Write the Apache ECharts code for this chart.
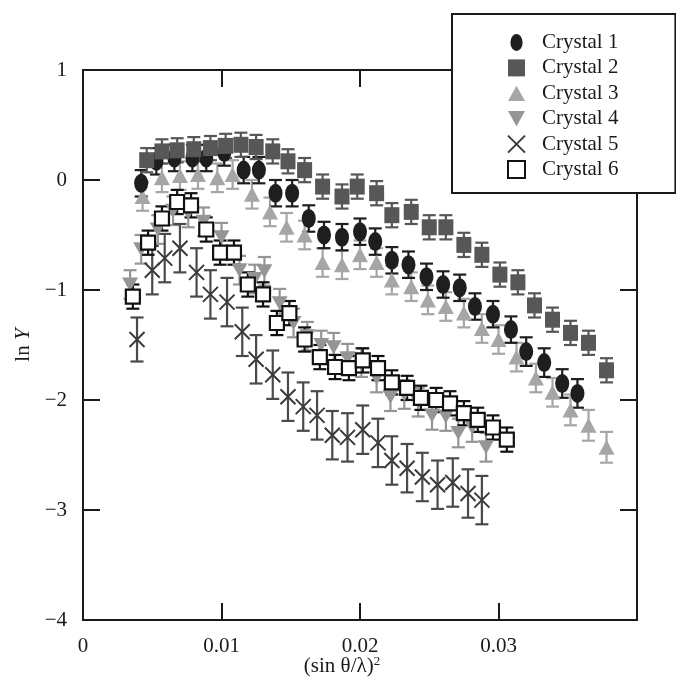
<!DOCTYPE html>
<html>
<head>
<meta charset="utf-8">
<script src="https://cdn.jsdelivr.net/npm/echarts@6/dist/echarts.min.js"></script>
<style>html,body{margin:0;padding:0;background:#fff;}#chart{width:676px;height:680px;}</style>
</head>
<body>
<div id="chart"></div>
<script>
// ---- data ----
const seriesNames = ['Crystal 1','Crystal 2','Crystal 3','Crystal 4','Crystal 5','Crystal 6'];
const xTicks = [0, 0.01, 0.02, 0.03];
const yTicks = [-4, -3, -2, -1, 0, 1];

const c1X = [0.0042,0.0053,0.0066,0.0079,0.0089,0.0102,0.0116,0.0127,0.0139,0.0151,0.0163,0.0174,0.0187,0.0200,0.0211,0.0223,0.0235,0.0248,0.0260,0.0272,0.0283,0.0296,0.0309,0.0320,0.0333,0.0346,0.0357];
const c1Y = [-0.03,0.17,0.20,0.20,0.20,0.25,0.09,0.09,-0.12,-0.12,-0.35,-0.50,-0.52,-0.47,-0.56,-0.73,-0.77,-0.88,-0.95,-0.98,-1.15,-1.22,-1.36,-1.56,-1.66,-1.85,-1.94];
const c1Err = [0.12,0.12,0.12,0.12,0.12,0.12,0.12,0.12,0.12,0.12,0.12,0.12,0.12,0.12,0.12,0.12,0.12,0.12,0.12,0.12,0.12,0.12,0.12,0.13,0.13,0.13,0.13];

const c2X = [0.0046,0.0057,0.0068,0.0080,0.0092,0.0103,0.0114,0.0125,0.0137,0.0148,0.0160,0.0173,0.0187,0.0198,0.0212,0.0223,0.0237,0.0250,0.0262,0.0275,0.0288,0.0301,0.0314,0.0326,0.0339,0.0352,0.0365,0.0378];
const c2Y = [0.18,0.26,0.27,0.28,0.29,0.31,0.32,0.30,0.26,0.17,0.09,-0.06,-0.15,-0.06,-0.12,-0.32,-0.29,-0.43,-0.43,-0.59,-0.68,-0.86,-0.93,-1.14,-1.27,-1.39,-1.48,-1.73];
const c2Err = [0.11,0.11,0.11,0.11,0.11,0.11,0.11,0.11,0.11,0.11,0.11,0.11,0.11,0.11,0.11,0.11,0.11,0.11,0.11,0.11,0.11,0.11,0.11,0.11,0.11,0.11,0.11,0.11];

const c3X = [0.0043,0.0057,0.0070,0.0083,0.0097,0.0108,0.0122,0.0135,0.0147,0.0160,0.0173,0.0187,0.0200,0.0212,0.0223,0.0237,0.0249,0.0262,0.0275,0.0288,0.0300,0.0313,0.0327,0.0339,0.0352,0.0365,0.0378];
const c3Y = [-0.15,0.02,0.04,0.05,0.02,0.05,-0.13,-0.29,-0.43,-0.50,-0.75,-0.77,-0.68,-0.75,-0.91,-0.97,-1.09,-1.15,-1.21,-1.35,-1.45,-1.61,-1.80,-1.93,-2.09,-2.23,-2.43];
const c3Err = [0.13,0.13,0.13,0.13,0.13,0.13,0.13,0.13,0.13,0.13,0.13,0.13,0.13,0.13,0.13,0.13,0.13,0.13,0.13,0.13,0.13,0.13,0.13,0.13,0.14,0.14,0.14];

const c4X = [0.0034,0.0042,0.0054,0.0065,0.0076,0.0087,0.0100,0.0113,0.0124,0.0131,0.0142,0.0152,0.0162,0.0172,0.0181,0.0191,0.0201,0.0212,0.0222,0.0232,0.0242,0.0252,0.0262,0.0271,0.0281,0.0291];
const c4Y = [-0.95,-0.63,-0.45,-0.28,-0.30,-0.38,-0.52,-0.82,-0.90,-0.83,-1.12,-1.30,-1.42,-1.50,-1.52,-1.62,-1.66,-1.80,-1.97,-1.95,-2.02,-2.14,-2.15,-2.30,-2.25,-2.43];
const c4Err = [0.13,0.13,0.13,0.13,0.13,0.13,0.13,0.13,0.13,0.13,0.13,0.13,0.13,0.13,0.13,0.13,0.13,0.13,0.13,0.13,0.13,0.13,0.13,0.13,0.13,0.13];

const c5X = [0.0039,0.0050,0.0059,0.0070,0.0082,0.0092,0.0104,0.0115,0.0125,0.0137,0.0148,0.0159,0.0169,0.0180,0.0191,0.0202,0.0213,0.0223,0.0234,0.0245,0.0256,0.0267,0.0278,0.0288];
const c5Y = [-1.45,-0.82,-0.71,-0.62,-0.84,-1.04,-1.11,-1.38,-1.63,-1.77,-1.97,-2.06,-2.14,-2.32,-2.34,-2.27,-2.39,-2.55,-2.62,-2.70,-2.77,-2.75,-2.85,-2.91];
const c5Err = [0.20,0.22,0.22,0.22,0.22,0.22,0.22,0.22,0.22,0.22,0.22,0.22,0.22,0.22,0.22,0.22,0.22,0.22,0.22,0.22,0.22,0.22,0.22,0.22];

const c6X = [0.0036,0.0047,0.0057,0.0068,0.0078,0.0089,0.0099,0.0109,0.0119,0.0130,0.0140,0.0149,0.0160,0.0171,0.0182,0.0192,0.0202,0.0213,0.0223,0.0234,0.0244,0.0255,0.0265,0.0275,0.0285,0.0296,0.0306];
const c6Y = [-1.06,-0.57,-0.35,-0.20,-0.23,-0.45,-0.66,-0.66,-0.95,-1.04,-1.30,-1.21,-1.45,-1.61,-1.70,-1.71,-1.64,-1.71,-1.84,-1.89,-1.98,-2.00,-2.03,-2.12,-2.18,-2.25,-2.36];
const c6Err = [0.11,0.11,0.11,0.11,0.11,0.11,0.11,0.11,0.11,0.11,0.11,0.11,0.11,0.11,0.11,0.11,0.11,0.11,0.11,0.11,0.11,0.11,0.11,0.11,0.11,0.11,0.11];

// ---- styling ----
const FONT = "'Liberation Serif','Times New Roman',serif";
const ellipsePath = 'path://M50,0 A50,70 0 1 1 50,140 A50,70 0 1 1 50,0 Z';
const downTri = 'path://M0,0 L100,0 L50,90 Z';
const upTri = 'path://M50,0 L100,90 L0,90 Z';
const xPath = 'path://M0,0 L100,100 M100,0 L0,100';
const squarePath = 'path://M0,0 L100,0 L100,100 L0,100 Z';

const defs = [
  {name:'Crystal 3', x:c3X, y:c3Y, e:c3Err, color:'#a6a6a6', bar:'#a6a6a6', symbol:'triangle', size:[16,15], icon:upTri},
  {name:'Crystal 4', x:c4X, y:c4Y, e:c4Err, color:'#959595', bar:'#959595', symbol:downTri, size:[16,14], icon:downTri},
  {name:'Crystal 1', x:c1X, y:c1Y, e:c1Err, color:'#1e1e1e', bar:'#1e1e1e', symbol:ellipsePath, size:[14,19], icon:ellipsePath},
  {name:'Crystal 2', x:c2X, y:c2Y, e:c2Err, color:'#575757', bar:'#575757', symbol:'rect', size:[15,16], icon:squarePath},
  {name:'Crystal 5', x:c5X, y:c5Y, e:c5Err, color:'rgba(0,0,0,0)', bar:'#4a4a4a', symbol:xPath, size:[15,15], icon:xPath, border:'#3a3a3a', bw:2},
  {name:'Crystal 6', x:c6X, y:c6Y, e:c6Err, color:'#ffffff', bar:'#111111', symbol:'rect', size:[14,14], icon:squarePath, border:'#111111', bw:2.2}
];

const series = [];
defs.forEach(d => {
  const pts = d.x.map((xv,i) => [xv, d.y[i], d.e[i]]);
  series.push({
    type:'custom', name:d.name+' err', data:pts, silent:true,
    encode:{x:0, y:1},
    renderItem:(params, api) => {
      const xv = api.value(0), yv = api.value(1), ev = api.value(2);
      const top = api.coord([xv, yv+ev]);
      const bot = api.coord([xv, yv-ev]);
      const hw = 6.5;
      const st = {stroke:d.bar, lineWidth:2.2};
      return {type:'group', children:[
        {type:'line', shape:{x1:top[0], y1:top[1], x2:bot[0], y2:bot[1]}, style:st},
        {type:'line', shape:{x1:top[0]-hw, y1:top[1], x2:top[0]+hw, y2:top[1]}, style:st},
        {type:'line', shape:{x1:bot[0]-hw, y1:bot[1], x2:bot[0]+hw, y2:bot[1]}, style:st}
      ]};
    }
  });
  series.push({
    type:'scatter', name:d.name, data:pts.map(p=>[p[0],p[1]]),
    symbol:d.symbol, symbolSize:d.size, symbolKeepAspect:false,
    itemStyle:{color:d.color, borderColor:d.border||d.color, borderWidth:d.bw||0, opacity:1},
    emphasis:{disabled:true}
  });
});

const iconFor = {};
defs.forEach(d => iconFor[d.name] = d.icon);

const minus = v => String(v).replace('-', '\u2212');

const chart = echarts.init(document.getElementById('chart'), null, {renderer:'canvas'});
chart.setOption({
  animation:false,
  backgroundColor:'#fff',
  textStyle:{fontFamily:FONT},
  grid:{left:83, right:39, top:70, bottom:60, show:true, borderColor:'#1a1a1a', borderWidth:2, backgroundColor:'transparent', containLabel:false, outerBoundsMode:'none'},
  legend:{
    orient:'vertical', left:452, top:14,
    padding:[18,57,13,55],
    backgroundColor:'#fff', borderColor:'#1a1a1a', borderWidth:2,
    itemWidth:17, itemHeight:17, itemGap:4.4,
    symbolKeepAspect:true,
    textStyle:{fontFamily:FONT, fontSize:21, color:'#1a1a1a', lineHeight:21, padding:[0,0,0,12]},
    selectedMode:false,
    data:seriesNames.map(n => ({name:n, icon:iconFor[n]}))
  },
  xAxis:[{
    type:'value', min:0, max:0.04, interval:0.01,
    name:'{a|(sin \u03b8/\u03bb)}{s|2}', nameLocation:'middle', nameGap:35, nameMoveOverlap:false,
    nameTextStyle:{padding:[0,36,0,0], rich:{a:{fontFamily:FONT, fontSize:21, color:'#1a1a1a'}, s:{fontFamily:FONT, fontSize:13, color:'#1a1a1a', verticalAlign:'top', padding:[0,0,10,0]}}},
    axisLine:{show:true, onZero:false, lineStyle:{color:'#1a1a1a', width:2}},
    axisTick:{show:true, inside:true, length:17, lineStyle:{color:'#1a1a1a', width:2}},
    axisLabel:{fontFamily:FONT, fontSize:21, color:'#1a1a1a', margin:16,
      formatter:v => (xTicks.indexOf(Math.round(v*100)/100) >= 0 ? String(Math.round(v*100)/100) : '')},
    splitLine:{show:false}
  },{
    type:'value', position:'top', min:0, max:0.04, interval:0.01,
    axisLine:{show:true, onZero:false, lineStyle:{color:'#1a1a1a', width:2}},
    axisTick:{show:true, inside:true, length:17, lineStyle:{color:'#1a1a1a', width:2}},
    axisLabel:{show:false}, splitLine:{show:false}
  }],
  yAxis:[{
    type:'value', min:-4, max:1, interval:1,
    name:'{a|ln }{b|Y}', nameLocation:'middle', nameGap:40, nameRotate:90,
    nameTextStyle:{rich:{a:{fontFamily:FONT, fontSize:21, color:'#1a1a1a'}, b:{fontFamily:FONT, fontSize:21, fontStyle:'italic', color:'#1a1a1a'}}},
    axisLine:{show:true, onZero:false, lineStyle:{color:'#1a1a1a', width:2}},
    axisTick:{show:true, inside:true, length:17, lineStyle:{color:'#1a1a1a', width:2}},
    axisLabel:{fontFamily:FONT, fontSize:21, color:'#1a1a1a', margin:16,
      formatter:v => (yTicks.indexOf(v) >= 0 ? minus(v) : '')},
    splitLine:{show:false}
  },{
    type:'value', position:'right', min:-4, max:1, interval:1,
    axisLine:{show:true, onZero:false, lineStyle:{color:'#1a1a1a', width:2}},
    axisTick:{show:true, inside:true, length:17, lineStyle:{color:'#1a1a1a', width:2}},
    axisLabel:{show:false}, splitLine:{show:false}
  }],
  series:series
});
</script>
</body>
</html>
